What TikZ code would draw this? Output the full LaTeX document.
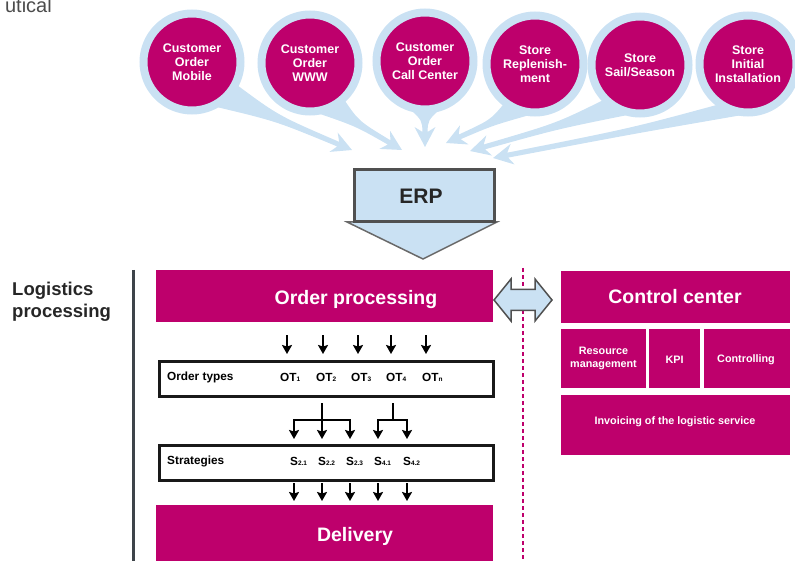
\documentclass[tikz,border=0pt]{standalone}
\usepackage{fontspec}
\setmainfont{Liberation Sans}
\usetikzlibrary{calc,arrows.meta}

\definecolor{mag}{RGB}{190,0,108}
\definecolor{ltblue}{RGB}{202,225,243}
\definecolor{boxgray}{RGB}{80,80,80}
\definecolor{trigray}{RGB}{105,105,105}
\definecolor{slate}{RGB}{62,68,74}

\newcommand\boldsz[2]{\fontsize{#1}{#2}\selectfont\bfseries}
\newcommand\lowidx[1]{{\fontsize{6.5}{7}\selectfont #1}}

% speech-bubble tail from a source circle to an arrow tip
% #1 circle centre, #2 tip, #3 angle of the tail base (screen degrees, 90 = down)
\newcommand\srctail[3]{%
  \coordinate (tm) at ($(#1)+(#3:50)$);
  \coordinate (th) at ($(#2)!15pt!(tm)$);
  \coordinate (tk) at ($(#2)!20pt!(tm)$);
  \coordinate (tq) at ($(tm)!0.45!(th)$);
  \fill[ltblue] ($(#1)+({#3+18}:50)$)
    .. controls ($(tq)!3pt!-90:(th)$) .. ($(th)!2.5pt!-90:(#2)$)
    -- ($(tk)!10.5pt!-90:(#2)$) -- (#2) -- ($(tk)!10.5pt!90:(#2)$)
    -- ($(th)!2.5pt!90:(#2)$)
    .. controls ($(tq)!3pt!90:(th)$) .. ($(#1)+({#3-18}:50)$) -- cycle;
}

\begin{document}
\begin{tikzpicture}[x=1pt,y=-1pt,
  src/.style={circle, fill=mag, draw=ltblue, line width=8pt, minimum size=97pt,
    inner sep=0pt, text=white, align=center, font=\boldsz{12.5}{14}},
  magbox/.style={fill=mag, inner sep=0pt, anchor=north west},
  framebox/.style={draw=black!90, line width=3pt, inner sep=0pt, anchor=north west},
  whitelbl/.style={text=white, inner sep=0pt, align=center},
  blacklbl/.style={text=black, inner sep=0pt},
  arr/.style={-{Stealth[length=9pt,width=10pt,inset=1.5pt]}, line width=2.4pt},
  bar/.style={line width=2.4pt}
]
\useasboundingbox (0,0) rectangle (795,561);
\clip (0,0) rectangle (795,561);

% cut-off heading at the corner
\node[anchor=base east, inner sep=0pt, font=\fontsize{20}{20}\selectfont, text=black!70] (head) at (52,13) {utical};

% ---------- order sources ----------
\coordinate (c1) at (192,62);
\coordinate (c2) at (310,63);
\coordinate (c3) at (425,61);
\coordinate (c4) at (535,64);
\coordinate (c5) at (640,65);
\coordinate (c6) at (748,64);
\coordinate (tip1) at (352,150);
\coordinate (tip2) at (402,150);
\coordinate (tip3) at (425,147);
\coordinate (tip4) at (446,143);
\coordinate (tip5) at (470,151);
\coordinate (tip6) at (493,158);

\srctail{c1}{tip1}{45}
\srctail{c2}{tip2}{65}
\srctail{c3}{tip3}{90}
\srctail{c4}{tip4}{110}
\srctail{c5}{tip5}{118}
\srctail{c6}{tip6}{108}

\node[src] (src1) at (c1) {Customer\\Order\\Mobile};
\node[src] (src2) at (c2) {Customer\\Order\\WWW};
\node[src] (src3) at (c3) {Customer\\Order\\Call Center};
\node[src] (src4) at (c4) {Store\\Replenish-\\ment};
\node[src] (src5) at (c5) {Store\\Sail/Season};
\node[src] (src6) at (c6) {Store\\Initial\\Installation};

% ---------- ERP ----------
\draw[fill=ltblue, draw=trigray, line width=1.5pt, line join=miter] (347,222) -- (497,222) -- (423,259) -- cycle;
\node[draw=boxgray, line width=3pt, fill=ltblue, inner sep=0pt, anchor=north west,
  minimum width=140pt, minimum height=52pt] (erp) at (352.5,168.5) {};
\node[inner sep=0pt, text=black!85, font=\boldsz{21}{24}] (erpl) at (421,196) {ERP};

% ---------- logistics processing ----------
\node[anchor=north west, align=left, inner sep=0pt, font=\boldsz{18.5}{22}, text=black!85] (lp) at (12,282) {Logistics\\processing};
\draw[slate, line width=3pt] (133,270) -- (133,561);

\node[magbox, minimum width=337pt, minimum height=52pt] (op) at (156,270) {};
\node[whitelbl, font=\boldsz{19.5}{22}] (opl) at (356,300) {Order processing};

% order types
\node[framebox, minimum width=334pt, minimum height=35pt] (ot) at (157.5,359.5) {};
\node[blacklbl, anchor=west, font=\boldsz{11.8}{13}] (otl) at (167,377) {Order types};
\foreach \x/\lx/\t [count=\i] in {287/280/1, 323/316/2, 358/351/3, 391/386/4, 426/422/n} {
  \coordinate (ia\i) at (\x,335);
  \coordinate (ib\i) at (\x,354);
  \draw[arr] (ia\i) -- (ib\i);
  \node[blacklbl, anchor=west, font=\boldsz{11.8}{13}] (ot\i) at (\lx,377) {OT\lowidx{\t}};
}

% branching into strategies
\coordinate (b2top) at (322,403);
\coordinate (b2mid) at (322,420);
\coordinate (b4top) at (393,403);
\coordinate (b4mid) at (393,420);
\foreach \x [count=\i] in {294,322,350,378,407} {
  \coordinate (st\i) at (\x,439);
}
\draw[bar] (b2top) -- (b2mid);
\draw[arr] (b2mid) -| (st1);
\draw[arr] (b2mid) -- (st2);
\draw[arr] (b2mid) -| (st3);
\draw[bar] (b4top) -- (b4mid);
\draw[arr] (b4mid) -| (st4);
\draw[arr] (b4mid) -| (st5);

% strategies
\node[framebox, minimum width=334pt, minimum height=35pt] (sg) at (157.5,443.5) {};
\node[blacklbl, anchor=west, font=\boldsz{11.8}{13}] (sgl) at (167,461) {Strategies};
\foreach \x/\t [count=\i] in {294/2.1, 322/2.2, 350/2.3, 378/4.1, 407/4.2} {
  \node[blacklbl, anchor=west, font=\boldsz{11.8}{13}] (s\i) at (\x-4,461) {S\lowidx{\t}};
  \coordinate (da\i) at (\x,483);
  \coordinate (db\i) at (\x,501);
  \draw[arr] (da\i) -- (db\i);
}

% delivery
\node[magbox, minimum width=337pt, minimum height=60pt] (dl) at (156,505) {};
\node[whitelbl, font=\boldsz{19.5}{22}] (dll) at (355,536) {Delivery};

% ---------- divider and link ----------
\draw[mag, line width=1.8pt, dash pattern=on 4pt off 3pt] (523,268) -- (523,561);
\draw[fill=ltblue, draw=boxgray, line width=1.5pt, line join=miter]
  (494,300) -- (511,279) -- (511,289.5) -- (535,289.5) -- (535,279) -- (552,300)
  -- (535,321) -- (535,310.5) -- (511,310.5) -- (511,321) -- cycle;

% ---------- control center ----------
\node[magbox, minimum width=229pt, minimum height=52pt] (cc) at (561,271) {};
\node[whitelbl, font=\boldsz{19.5}{22}] (ccl) at (675,297) {Control center};
\node[magbox, minimum width=85pt, minimum height=59pt] (rm) at (561,329) {};
\node[whitelbl, font=\boldsz{10.8}{13}] (rml) at (603.5,358) {Resource\\management};
\node[magbox, minimum width=51pt, minimum height=59pt] (kpi) at (649,329) {};
\node[whitelbl, font=\boldsz{10.8}{13}] (kpil) at (674.5,360) {KPI};
\node[magbox, minimum width=86pt, minimum height=59pt] (ctl) at (704,329) {};
\node[whitelbl, font=\boldsz{10.8}{13}] (ctll) at (746,360) {Controlling};
\node[magbox, minimum width=229pt, minimum height=60pt] (inv) at (561,395) {};
\node[whitelbl, font=\boldsz{10.8}{13}] (invl) at (675,422) {Invoicing of the logistic service};

\end{tikzpicture}
\end{document}
